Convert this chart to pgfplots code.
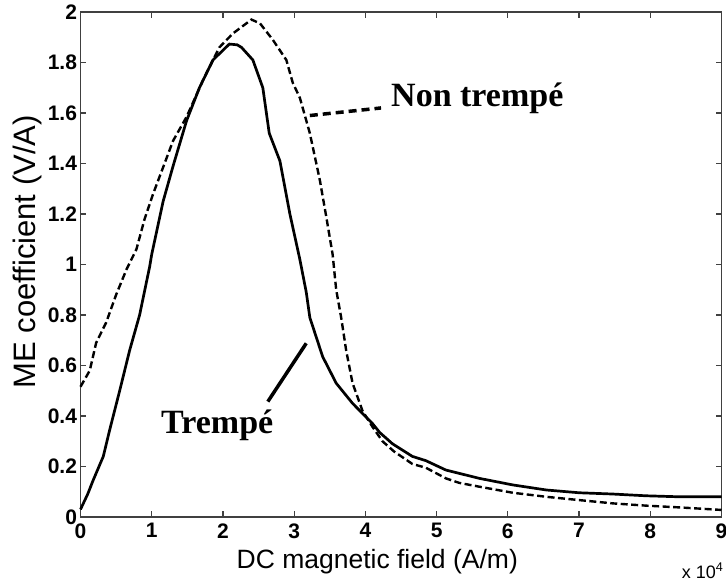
\documentclass[border=0pt]{standalone}
\usepackage{fontspec}
\setmainfont{Liberation Sans}
\newfontfamily\tnr{Liberation Serif}
\usepackage{pgfplots}
\pgfplotsset{compat=1.18}
\begin{document}
\begin{tikzpicture}
\begin{axis}[
 name=ax,
 scale only axis, width=641bp, height=505bp,
 xmin=0, xmax=9, ymin=0, ymax=2,
 xtick={0,1,2,3,4,5,6,7,8,9},
 ytick={0,0.2,0.4,0.6,0.8,1,1.2,1.4,1.6,1.8,2},
 tick align=inside, major tick length=6bp,
 axis line style={line width=1.6bp, black!75},
 every tick/.style={black!75, line width=1.2bp},
 tick label style={font=\bfseries\fontsize{21bp}{22bp}\selectfont},
 xticklabel style={yshift=-3bp},
 /pgf/number format/assume math mode=true,
 xlabel={DC magnetic field (A/m)},
 ylabel={ME coefficient (V/A)},
 xlabel style={font=\fontsize{26.5bp}{30bp}\selectfont, at={(axis description cs:0.463,-0.088)}, anchor=center},
 ylabel style={font=\fontsize{31bp}{33bp}\selectfont, at={(axis description cs:-0.083,0.525)}, anchor=center},
 clip=false,
]
\addplot[black, line width=2.7bp] coordinates {
(0,0.03)(0.1,0.09)(0.18,0.147)(0.32,0.24)(0.41,0.345)(0.55,0.50)(0.69,0.66)(0.83,0.80)(0.97,0.99)(1.0,1.04)
(1.16,1.25)(1.30,1.39)(1.49,1.57)(1.67,1.70)(1.86,1.81)(2.09,1.873)(2.2,1.87)(2.26,1.86)(2.42,1.81)(2.56,1.70)
(2.65,1.52)(2.80,1.41)(2.94,1.20)(3.08,1.02)(3.17,0.89)(3.22,0.79)(3.40,0.635)(3.59,0.53)(3.82,0.45)(4.10,0.37)
(4.2,0.335)(4.38,0.29)(4.66,0.24)(4.85,0.223)(5.13,0.186)(5.6,0.153)(6.07,0.127)(6.54,0.107)(7.0,0.096)(7.47,0.091)
(7.94,0.084)(8.41,0.08)(9,0.08)};
\addplot[black, line width=2.4bp, dash pattern=on 7bp off 3.5bp] coordinates {
(0,0.516)(0.13,0.58)(0.22,0.69)(0.36,0.77)(0.5,0.88)(0.645,0.98)(0.785,1.06)(0.9,1.18)(1.02,1.28)(1.30,1.49)
(1.49,1.585)(1.72,1.73)(1.95,1.86)(2.14,1.915)(2.40,1.97)(2.52,1.955)(2.70,1.89)(2.89,1.81)(2.98,1.72)(3.08,1.66)
(3.22,1.52)(3.36,1.335)(3.45,1.19)(3.54,1.04)(3.59,0.9)(3.66,0.79)(3.73,0.66)(3.82,0.53)(3.96,0.42)(4.10,0.357)
(4.24,0.30)(4.4,0.26)(4.66,0.21)(4.85,0.195)(5.13,0.153)(5.32,0.135)(5.6,0.12)(6.07,0.096)(6.54,0.08)(7.0,0.067)
(7.47,0.054)(7.94,0.045)(8.41,0.038)(9,0.028)};
\addplot[black, line width=3.5bp, dash pattern=on 8bp off 5bp] coordinates {(3.22,1.59)(4.22,1.62)};
\addplot[black, line width=3.5bp] coordinates {(2.63,0.457)(3.17,0.688)};
\node[font=\tnr\bfseries\fontsize{34bp}{36bp}\selectfont, anchor=west, inner sep=0pt] at (axis cs:4.36,1.66) {Non trempé};
\node[font=\tnr\bfseries\fontsize{34bp}{36bp}\selectfont, anchor=center, inner sep=0pt] at (axis cs:1.92,0.364) {Trempé};
\end{axis}
\node[font=\fontsize{18bp}{19bp}\selectfont, anchor=north east, inner sep=0pt] at ([xshift=2bp,yshift=-46bp]ax.south east) {x 10\textsuperscript{4}};
\pgfresetboundingbox
\path[use as bounding box] ([xshift=-80.5bp,yshift=-66bp]ax.south west) rectangle ([xshift=4.5bp,yshift=12bp]ax.north east);
\end{tikzpicture}
\end{document}
